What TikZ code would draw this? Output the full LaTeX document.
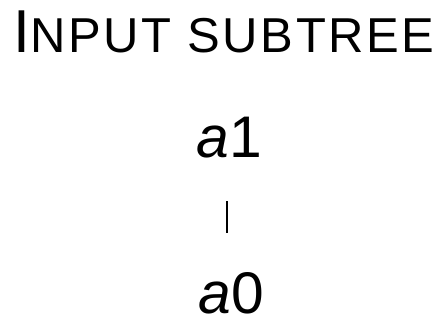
\documentclass[tikz,border=0pt]{standalone}
\usepackage{fontspec}
\setmainfont{Liberation Sans}
\newfontfamily\spacedcaps[LetterSpace=5.3]{Liberation Sans}
\begin{document}
\begin{tikzpicture}[x=1pt,y=-1pt,
  label/.style={inner sep=0pt, outer sep=0pt, anchor=base},
  leaf/.style={label, font=\fontsize{58.7}{60}\selectfont},
  edge/.style={line width=1.3pt}]
\useasboundingbox (0,0) rectangle (445,320);
% heading in hand-made small capitals
\node[label, anchor=base west] (title) at (13.3,52.6)
  {\fontsize{60.6}{62}\selectfont I\fontsize{49}{51}\spacedcaps NPUT SUBTREE};
% the two-node subtree
\node[leaf] (a1) at (229,157.5) {\textit{a}1};
\node[leaf] (a0) at (231,314) {\textit{a}0};
\draw[edge, shorten <=43.2pt, shorten >=40.5pt]
  ([xshift=-2pt]a1.south) -- ([xshift=-4pt]a0.north);
\end{tikzpicture}
\end{document}
